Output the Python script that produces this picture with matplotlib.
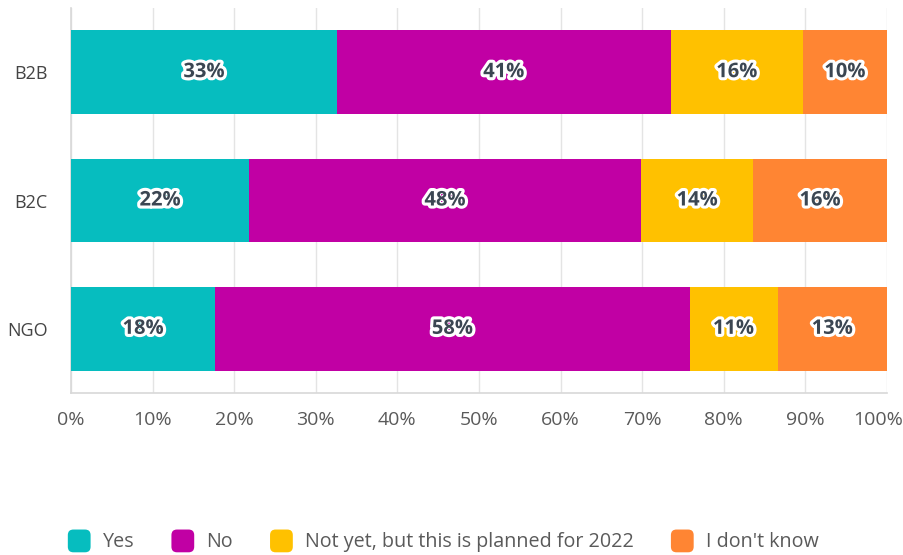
import matplotlib
matplotlib.use("Agg")
import matplotlib.pyplot as plt
import matplotlib.patheffects as pe
import matplotlib.transforms as mtransforms
from matplotlib.patches import FancyBboxPatch, Patch
from matplotlib.legend_handler import HandlerPatch
import numpy as np

categories = ["B2B", "B2C", "NGO"]
series_names = ["Yes", "No", "Not yet, but this is planned for 2022", "I don't know"]
yes_vals = [32.6, 21.8, 17.7]
no_vals = [40.9, 48.1, 58.1]
notyet_vals = [16.2, 13.7, 10.8]
dontknow_vals = [10.3, 16.4, 13.4]
x_ticks = [0, 10, 20, 30, 40, 50, 60, 70, 80, 90, 100]
colors = ["#06BDBF", "#C100A4", "#FFC100", "#FF8533"]

series = [yes_vals, no_vals, notyet_vals, dontknow_vals]

fig = plt.figure(figsize=(9.04, 5.55), dpi=100)
ax = fig.add_axes([71 / 904, 1 - 393 / 555, (887 - 71) / 904, (393 - 8) / 555])

y = np.arange(len(categories))
left = np.zeros(len(categories))
for name, vals, col in zip(series_names, series, colors):
    vals = np.array(vals)
    ax.barh(y, vals, left=left, height=0.65, color=col, zorder=3)
    for yi, l, v in zip(y, left, vals):
        ax.text(l + v / 2, yi, f"{round(v):d}%", ha="center", va="center",
                fontsize=14.5, fontweight="bold", family="Open Sans", color="#3B4652",
                zorder=4,
                path_effects=[pe.withStroke(linewidth=4.5, foreground="white")])
    left += vals

ax.set_xlim(0, 100)
ax.set_ylim(2.5, -0.5)
ax.set_yticks(y)
ax.set_yticklabels(categories, family="Open Sans", fontsize=13, color="#444444")
ax.set_xticks(x_ticks)
ax.set_xticklabels([f"{t}%" for t in x_ticks], family="Open Sans", fontsize=14, color="#5A5A5A")
ax.tick_params(axis="both", length=0)
ax.tick_params(axis="x", pad=13)
ax.tick_params(axis="y", pad=17)
ax.grid(axis="x", color="#E4E4E4", linewidth=1, zorder=0)
for s in ["top", "right"]:
    ax.spines[s].set_visible(False)
for s in ["left", "bottom"]:
    ax.spines[s].set_color("#D8D8D8")
    ax.spines[s].set_linewidth(1.2)

# keep the last tick label inside the canvas
last = ax.get_xticklabels()[-1]
last.set_transform(last.get_transform() + mtransforms.ScaledTranslation(-9 / 100, 0, fig.dpi_scale_trans))


class RoundHandler(HandlerPatch):
    def create_artists(self, legend, orig_handle, xdescent, ydescent, width, height, fontsize, trans):
        side = min(width, height)
        p = FancyBboxPatch((-xdescent + (width - side) / 2, -ydescent + (height - side) / 2),
                           side, side, boxstyle="round,pad=0,rounding_size=4",
                           facecolor=orig_handle.get_facecolor(), edgecolor="none",
                           transform=trans)
        return [p]


handles = [Patch(facecolor=c) for c in colors]
leg = fig.legend(handles, series_names, loc="center", bbox_to_anchor=(0.489, 1 - 541 / 555),
                 ncol=4, frameon=False, prop={"family": "Open Sans", "size": 14.2},
                 handlelength=1.4, handleheight=1.4, handletextpad=0.5, columnspacing=1.75,
                 handler_map={Patch: RoundHandler()})
for t in leg.get_texts():
    t.set_color("#5A5A5A")

fig.savefig("out.png", dpi=100, facecolor="white")
